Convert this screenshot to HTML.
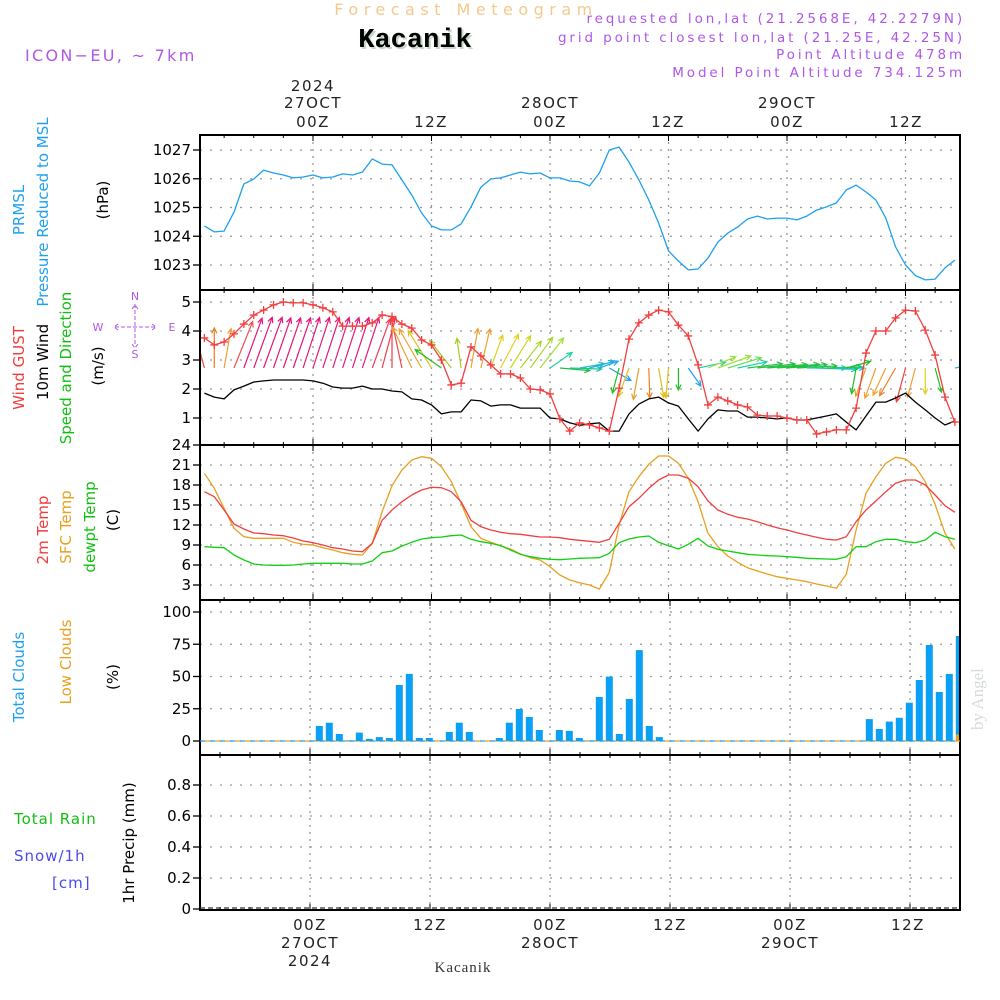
<!DOCTYPE html>
<html><head><meta charset="utf-8"><style>
html,body{margin:0;padding:0;background:#fff;}
svg{display:block;font-family:"DejaVu Sans","Liberation Sans",sans-serif;}
</style></head><body>
<svg id="chart" width="1000" height="1000" viewBox="0 0 1000 1000" xmlns="http://www.w3.org/2000/svg">
<g id="hdr">
<text x="466" y="15" text-anchor="middle" font-size="16" letter-spacing="5.5" fill="#f4c98c">Forecast Meteogram</text>
<text x="417" y="49" text-anchor="middle" font-family="Liberation Mono,monospace" font-weight="bold" font-size="27" fill="#c8d8c8">Kacanik</text>
<text x="415" y="47" text-anchor="middle" font-family="Liberation Mono,monospace" font-weight="bold" font-size="27" fill="#000">Kacanik</text>
<text x="25" y="61" font-size="16" letter-spacing="2.3" fill="#b057e8">ICON−EU, ~ 7km</text>
<g fill="#b057e8" font-size="13.5" text-anchor="end" letter-spacing="2.9">
<text x="965" y="23">requested lon,lat (21.2568E, 42.2279N)</text>
<text x="965" y="42">grid point closest lon,lat (21.25E, 42.25N)</text>
<text x="965" y="59">Point Altitude 478m</text>
<text x="965" y="77">Model Point Altitude 734.125m</text>
</g>
<g font-size="15" text-anchor="middle" fill="#222" letter-spacing="1.5">
<text x="313" y="91">2024</text>
<text x="313" y="108">27OCT</text>
<text x="550" y="108">28OCT</text>
<text x="787" y="108">29OCT</text>
<text x="313" y="127">00Z</text>
<text x="431" y="127">12Z</text>
<text x="550" y="127">00Z</text>
<text x="668" y="127">12Z</text>
<text x="787" y="127">00Z</text>
<text x="906" y="127">12Z</text>
<text x="310" y="930">00Z</text>
<text x="430" y="930">12Z</text>
<text x="550" y="930">00Z</text>
<text x="670" y="930">12Z</text>
<text x="790" y="930">00Z</text>
<text x="908" y="930">12Z</text>
<text x="310" y="948">27OCT</text>
<text x="550" y="948">28OCT</text>
<text x="790" y="948">29OCT</text>
<text x="310" y="966">2024</text>
</g>
<text x="463" y="972" text-anchor="middle" font-family="Liberation Serif,serif" font-size="15" letter-spacing="1" fill="#333">Kacanik</text>
<text transform="translate(983,730) rotate(-90)" font-family="Liberation Serif,serif" font-size="17" fill="#d5dcd5">by Angel</text>
<g font-size="15">
<text transform="translate(24,210) rotate(-90)" text-anchor="middle" fill="#1ea0f0">PRMSL</text>
<text transform="translate(48,212) rotate(-90)" text-anchor="middle" fill="#1ea0f0">Pressure Reduced to MSL</text>
<text transform="translate(108,200) rotate(-90)" text-anchor="middle" fill="#000">(hPa)</text>
<text transform="translate(24,368) rotate(-90)" text-anchor="middle" fill="#f03c3c">Wind GUST</text>
<text transform="translate(48,362) rotate(-90)" text-anchor="middle" fill="#000">10m Wind</text>
<text transform="translate(71,368) rotate(-90)" text-anchor="middle" fill="#10c010">Speed and Direction</text>
<text transform="translate(103,366) rotate(-90)" text-anchor="middle" fill="#000">(m/s)</text>
<text transform="translate(48,530) rotate(-90)" text-anchor="middle" fill="#f03c3c">2m Temp</text>
<text transform="translate(71,527) rotate(-90)" text-anchor="middle" fill="#e8a020">SFC Temp</text>
<text transform="translate(95,527) rotate(-90)" text-anchor="middle" fill="#10c010">dewpt Temp</text>
<text transform="translate(118,520) rotate(-90)" text-anchor="middle" fill="#000">(C)</text>
<text transform="translate(24,677) rotate(-90)" text-anchor="middle" fill="#1ea0f0">Total Clouds</text>
<text transform="translate(71,662) rotate(-90)" text-anchor="middle" fill="#e8a020">Low Clouds</text>
<text transform="translate(118,677) rotate(-90)" text-anchor="middle" fill="#000">(%)</text>
<text transform="translate(134,843) rotate(-90)" text-anchor="middle" fill="#000">1hr Precip (mm)</text>
<text x="14" y="824" fill="#10c010" letter-spacing="1">Total  Rain</text>
<text x="14" y="861" fill="#4a4af0" letter-spacing="1">Snow/1h</text>
<text x="52" y="888" fill="#4a4af0" letter-spacing="1">[cm]</text>
</g>
<g fill="#b057e8" stroke="#b057e8" font-size="11" text-anchor="middle">
<text x="135" y="300" stroke="none">N</text>
<text x="135" y="358" stroke="none">S</text>
<text x="98" y="331" stroke="none">W</text>
<text x="172" y="331" stroke="none">E</text>
<path d="M135 304 L135 346 M115 327 L155 327 M132 309 L135 305 L138 309 M132 344 L135 348 L138 344 M118 324 L114 327 L118 330 M152 324 L156 327 L152 330" fill="none" stroke-width="1" stroke-dasharray="4,2"/>
</g>
</g>
<g id="plots"></g>
</svg>
<script>
const startHour = -11;
const pressure = [1024.36,1024.15,1024.18,1024.84,1025.82,1025.99,1026.30,1026.20,1026.13,1026.03,1026.06,1026.13,
1026.03,1026.06,1026.17,1026.13,1026.23,1026.69,1026.51,1026.48,1025.96,1025.43,
1024.81,1024.36,1024.22,1024.22,1024.43,1025.02,1025.71,1025.99,1026.03,1026.13,
1026.23,1026.17,1026.2,1026.03,1026.03,1025.92,1025.89,1025.75,1026.2,1027.0,
1027.1,1026.58,1025.96,1025.26,1024.46,1023.49,1023.14,1022.83,1022.86,1023.24,
1023.8,1024.11,1024.32,1024.6,1024.7,1024.6,1024.63,1024.63,1024.57,1024.7,
1024.91,1025.02,1025.16,1025.61,1025.78,1025.54,1025.26,1024.63,1023.63,1023.0,
1022.63,1022.48,1022.51,1022.9,1023.17];
const gust = [3.76,3.52,3.62,3.9,4.24,4.55,4.72,4.9,5.0,4.97,4.97,4.9,
4.8,4.66,4.17,4.17,4.17,4.28,4.55,4.5,4.24,4.1,3.69,3.52,3.0,2.14,2.2,3.45,3.14,2.83,2.52,2.52,2.38,2.0,1.97,1.83,0.97,0.55,0.83,
0.76,0.66,0.55,2.03,3.72,4.28,4.55,4.72,4.66,4.2,3.83,2.83,1.45,1.72,1.59,1.45,1.38,1.1,1.07,1.07,1.0,0.93,0.93,0.45,0.52,0.59,0.59,1.34,3.24,4.0,4.0,4.45,4.72,4.69,4.03,3.17,1.72,0.86];
const wind10m = [1.86,1.72,1.66,1.97,2.1,2.24,2.28,2.31,2.31,2.31,2.31,2.28,
2.2,2.07,2.03,2.03,2.1,2.0,2.0,1.93,1.9,1.66,1.62,1.45,1.14,1.21,1.21,1.62,1.59,1.41,1.45,1.45,1.34,1.34,1.34,1.0,0.97,0.83,0.75,
0.8,0.83,0.55,0.55,1.14,1.48,1.66,1.72,1.52,1.41,0.97,0.55,0.97,1.28,1.24,1.24,1.03,1.03,1.0,0.97,1.0,0.93,0.93,1.0,1.07,1.14,0.86,0.59,1.07,1.55,1.55,1.69,1.86,1.55,1.28,1.0,0.76,0.9];
const arrowDir = [-15,0,10,22,20,20,20,19,19,19,18,18,
18,18,18,18,18,20,15,0,-12,-25,-30,-32,-55,-38,-8,10,13,20,28,32,38,36,38,55,95,92,80,
75,70,120,195,200,190,178,170,185,180,145,78,68,70,73,78,83,84,85,85,85,87,90,92,88,90,75,190,200,200,205,210,195,195,180,165,null,80];
const arrowMag = [3,4,4,5,5.3,5.4,5.4,5.3,5.3,5.3,5.3,5.3,
5.3,5.3,5.3,5.3,5.3,5.2,5.3,5.2,5.0,4.5,4.5,4.4,3.2,3.5,3.0,4.0,4.0,3.5,3.8,3.8,3.4,3.8,3.8,2.7,3.0,3.2,2.5,
2.5,2.0,2.5,2.6,3.0,3.2,3.0,3.0,3.0,2.2,2.2,2.8,3.0,3.5,3.5,3.0,3.5,3.8,4.0,4.2,4.0,4.0,4.0,4.0,3.5,2.8,2.5,2.6,3.0,3.2,3.0,3.2,3.5,3.0,2.6,2.5,0,1.8];
const arrowColor = ["#f04848","#e88020","#f0a030","#f05050","#e8157a","#e8157a","#e8157a","#e8157a","#e8157a","#e8157a","#e8157a","#e8157a",
"#e8157a","#e8157a","#e8157a","#e8157a","#e8157a","#f03a60","#f03a50","#f03a50","#f04848","#f0a030","#f0a030","#e0c020","#20c020","#a0d020","#a0d020","#f0a030","#f0a030","#e0d020","#e0d020","#c8d820","#a8d828","#a8d828","#a0e030","#20d0a0","#20c040","#20c0a0","#20c0c0",
"#20b0e0","#20a8f0","#20a0f0","#20c020","#e0c020","#e0a030","#f08020","#e0c020","#e0c020","#20c020","#20a0f0","#20d0a0","#a0e040","#a0e040","#60e060","#20d0a0","#20c040","#20c040","#20c040","#20c040","#20c040","#20c040","#20d0b0","#20c8b0","#20c040","#20c0c0","#20c020","#20c020","#f0a030","#f0a030","#f0a030","#f08020","#f04040","#f0a030","#e0d020","#20c020","#fff","#20c0c0"];
const temp2m = [17.0,16.25,14.25,12.15,11.4,10.8,10.7,10.5,10.4,10.05,9.6,9.35,
9.0,8.6,8.4,8.1,8.0,9.25,12.7,14.25,15.5,16.5,17.25,17.65,17.6,17.0,15.5,12.7,11.75,11.25,10.9,10.7,10.6,10.4,10.2,10.2,10.1,9.85,9.7,
9.55,9.4,9.85,12.25,14.75,16.0,17.5,18.75,19.5,19.5,19.0,17.75,15.6,14.25,13.6,13.15,12.9,12.5,12.0,11.6,11.25,10.85,10.5,10.15,9.85,9.75,10.25,12.5,14.25,15.6,17.0,18.25,18.75,18.75,18.0,16.5,14.9,13.9];
const tempSfc = [19.75,17.5,14.5,11.5,10.25,10.0,10.0,10.0,10.0,9.4,9.1,9.0,
8.6,8.25,7.85,7.6,7.5,9.25,14.0,17.9,20.25,21.75,22.25,22.0,20.75,18.5,15.25,11.75,10.0,9.4,8.9,8.4,7.65,7.1,6.75,5.75,4.5,3.75,3.35,
3.0,2.4,4.9,12.0,17.0,19.25,21.1,22.35,22.35,21.25,19.0,15.5,10.75,8.75,7.35,6.4,5.6,5.1,4.65,4.25,4.0,3.75,3.5,3.15,2.85,2.5,4.6,11.25,16.75,19.25,21.25,22.15,21.9,20.75,18.5,15.1,10.75,8.4];
const dewpt = [8.75,8.65,8.6,7.5,6.75,6.15,6.0,5.95,5.95,6.0,6.15,6.25,
6.25,6.25,6.25,6.15,6.15,6.6,7.85,8.1,8.85,9.4,9.9,10.1,10.2,10.4,10.5,9.85,9.5,9.25,8.9,8.25,7.6,7.25,7.0,6.85,6.8,6.9,7.0,
7.05,7.1,7.75,9.35,9.9,10.2,10.35,9.4,8.9,8.4,9.1,10.0,8.85,8.35,8.1,7.85,7.6,7.5,7.4,7.35,7.25,7.15,7.0,6.95,6.9,6.85,7.25,8.75,8.75,9.5,9.85,9.85,9.5,9.35,9.75,10.9,10.25,9.85];
const cloudStart = 1;
const totalClouds = [11.6,14.2,5.4,0.5,6.5,1.6,3,2.3,43.4,52,2.3,2.3,0,7,14.2,7,0,0,2.3,14.2,24.8,18.6,8.5,0,8.5,7.8,2.3,0.3,
34.1,49.9,5.4,32.6,70.5,11.6,3,0,0,0,0,0,0,0,0,0,0,0,0,0,0,0,0,0,0,0,0,17,9.3,15,18,29.7,47.3,74.4,38,52,81.4];
const lowClouds = [0,0,0,0,0,0,0,0,0,0,0,0,0,0,0,0,0,0,0,0,0,0,0,0,0,0,0,0,
0,0,0,0,0,0,0,0,0,0,0,0,0,0,0,0,0,0,0,0,0,0,0,0,0,0,0,0,0,0,0,0,0,0,0,0,5];
const precip = new Array(65).fill(0);
const pTicks = [1023,1024,1025,1026,1027];
const wTicks = [1,2,3,4,5];
const tTicks = [3,6,9,12,15,18,21,24];
const cTicks = [0,25,50,75,100];
const rTicks = [0,0.2,0.4,0.6,0.8];

const NS="http://www.w3.org/2000/svg";
const X0=200,X1=960;
const xT=h=>313+h*9.875;
const xB=h=>310+h*10;
const yP=v=>150+(1027-v)*28.75;
const yW=v=>302+(5-v)*29;
const yT=v=>445+(24-v)*6.667;
const yC=v=>741-v*1.29;
const yR=v=>909-v*155;
const g=document.getElementById('plots');
function el(tag,attrs,parent){const e=document.createElementNS(NS,tag);for(const k in attrs)e.setAttribute(k,attrs[k]);(parent||g).appendChild(e);return e;}
const panels=[
 {name:'pressure',top:135,bot:290,ticks:pTicks,y:yP,x:xT},
 {name:'wind',top:290,bot:445,ticks:wTicks,y:yW,x:xT},
 {name:'temperature',top:445,bot:600,ticks:tTicks,y:yT,x:xT},
 {name:'clouds',top:600,bot:755,ticks:cTicks,y:yC,x:xB},
 {name:'precip',top:755,bot:910,ticks:rTicks,y:yR,x:xB}];
panels.forEach(p=>{
  const pg=el('g',{});
  
  
  for(let h=0;h<=60;h+=12){const x=p.x(h);
    const gl=el('line',{x1:x,x2:x,y1:p.top,y2:p.bot,stroke:'#999','stroke-width':1.3,'stroke-dasharray':'2,5'},pg);
    }
  for(let h=-9;h<=65;h+=3){const x=p.x(h);const L=(h%12===0)?6:3;
    el('line',{x1:x,x2:x,y1:p.bot,y2:p.bot-L,stroke:'#000','stroke-width':1},pg);
    el('line',{x1:x,x2:x,y1:p.top,y2:p.top+L,stroke:'#000','stroke-width':1},pg);}
  p.ticks.forEach(v=>{const y=p.y(v);
    if(y>p.top+3&&y<p.bot-3){const gl=el('line',{x1:X0,x2:X1,y1:y,y2:y,stroke:'#999','stroke-width':1.3,'stroke-dasharray':'2,8'},pg);
      }
    el('line',{x1:X0-7,x2:X0,y1:y,y2:y,stroke:'#000','stroke-width':1.3},pg);
    const t=el('text',{x:X0-9,y:y+5,'text-anchor':'end','font-size':15,fill:'#000'},pg);
    
    t.textContent=String(v);});
  const fr=el('rect',{x:X0,y:p.top,width:X1-X0,height:p.bot-p.top,fill:'none',stroke:'#000','stroke-width':2},pg);
  
});
function line(arr,xf,yf,color,name,w){
  const pts=arr.map((v,i)=>xf(startHour+i).toFixed(1)+','+yf(v).toFixed(1)).join(' ');
  const pl=el('polyline',{points:pts,fill:'none',stroke:color,'stroke-width':w||1.3,'stroke-linejoin':'round'});
  
  return pl;}
const cp=el('clipPath',{id:'clipAll'});el('rect',{x:X0+1,y:130,width:X1-X0-2,height:785},cp);
line(pressure,xT,yP,'#1ea0f0','pressure-line');
arrowDir.forEach((d,i)=>{ if(d===null||!arrowMag[i])return;
  const h=startHour+i;const x=xT(h), y=368, L=arrowMag[i]*10, r=d*Math.PI/180;
  const x2=x+L*Math.sin(r), y2=y-L*Math.cos(r);
  const a1=r+Math.PI-0.45,a2=r+Math.PI+0.45;
  const ar=el('path',{d:`M${x.toFixed(1)} ${y} L${x2.toFixed(1)} ${y2.toFixed(1)} M${(x2+6*Math.sin(a1)).toFixed(1)} ${(y2-6*Math.cos(a1)).toFixed(1)} L${x2.toFixed(1)} ${y2.toFixed(1)} L${(x2+6*Math.sin(a2)).toFixed(1)} ${(y2-6*Math.cos(a2)).toFixed(1)}`,fill:'none',stroke:arrowColor[i],'stroke-width':1.2,'clip-path':'url(#clipAll)'});
  
  
});
line(wind10m,xT,yW,'#000','wind-speed-line');
line(gust,xT,yW,'#f04040','gust-line').setAttribute('clip-path','url(#clipAll)');
gust.forEach((v,i)=>{const x=xT(startHour+i),y=yW(v);
  const m=el('path',{d:`M${x-4} ${y} L${x+4} ${y} M${x} ${y-4} L${x} ${y+4}`,stroke:'#f04040','stroke-width':1.3,'clip-path':'url(#clipAll)'});
  
  });
line(tempSfc,xT,yT,'#e8a020','sfc-temp-line');
line(temp2m,xT,yT,'#f04040','temp-2m-line');
line(dewpt,xT,yT,'#10d010','dewpoint-line');
el('line',{x1:X0,x2:X1,y1:yC(0),y2:yC(0),stroke:'#1ea0f0','stroke-width':1.3,'stroke-dasharray':'5,5'});
el('line',{x1:X0+5,x2:X1,y1:yC(0),y2:yC(0),stroke:'#e8a020','stroke-width':1.3,'stroke-dasharray':'5,5'});
totalClouds.forEach((v,i)=>{const h=cloudStart+i;const x=xB(h)-0.7-3.5;const w=Math.min(7,X1-1-x);
  if(v<=0||w<=0)return;
  const b=el('rect',{x:x.toFixed(1),y:yC(v).toFixed(1),width:w,height:(yC(0)-yC(v)).toFixed(1),fill:'#0aa0f5'});
  
  });
lowClouds.forEach((v,i)=>{const h=cloudStart+i;const x=xB(h)-0.7-3.5;const w=Math.min(7,X1-1-x);
  if(v<=0||w<=0)return;
  const b=el('rect',{x:(x+w-3).toFixed(1),y:yC(v).toFixed(1),width:3,height:(yC(0)-yC(v)).toFixed(1),fill:'#e8a020'});
  
  });
el('line',{x1:X0,x2:X1,y1:yR(0)-1,y2:yR(0)-1,stroke:'#333','stroke-width':1.3,'stroke-dasharray':'5,3'});
precip.forEach((v,i)=>{if(v<=0)return;const x=xB(1+i)-4;
  const b=el('rect',{x:x,y:yR(v),width:7,height:yR(0)-yR(v),fill:'#10c010'});
  
  });
</script>
</body></html>
